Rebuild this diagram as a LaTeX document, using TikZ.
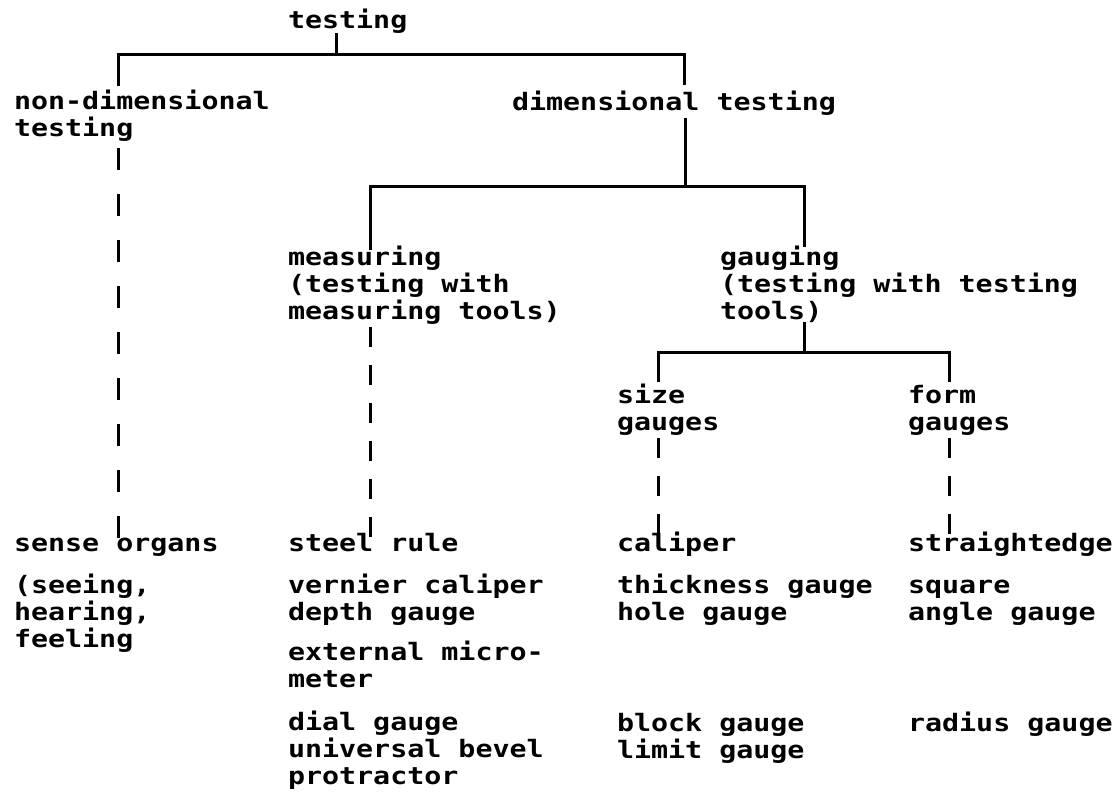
\documentclass[tikz,border=0pt]{standalone}
\usepackage{fontspec}
\setmonofont[FakeStretch=1.18]{DejaVu Sans Mono}
\begin{document}
\begin{tikzpicture}[x=1pt,y=-1pt,
  lbl/.style={anchor=base west, inner sep=0pt, outer sep=0pt, align=left,
    font=\fontsize{24}{27}\selectfont\ttfamily\bfseries},
  conn/.style={line width=3pt},
  dconn/.style={line width=3pt, dash pattern=on 20pt off 18pt},
  ldconn/.style={line width=3pt, dash pattern=on 22pt off 24pt}]
\useasboundingbox (0,0) rectangle (1115,794);
% text nodes (anchor = baseline of the last line)
\node[lbl] (t0) at (288,29) {testing};
\node[lbl] (nd) at (14,137) {non-dimensional\\testing};
\node[lbl] (dt) at (512,111) {dimensional testing};
\node[lbl] (ms) at (288,319) {measuring\\(testing with\\measuring tools)};
\node[lbl] (gg) at (720,319) {gauging\\(testing with testing\\tools)};
\node[lbl] (sz) at (617,430) {size\\gauges};
\node[lbl] (fm) at (908,430) {form\\gauges};
\node[lbl] (so) at (14,551) {sense organs};
\node[lbl] (se) at (14,647) {(seeing,\\hearing,\\feeling};
\node[lbl] (sr) at (288,551) {steel rule};
\node[lbl] (vc) at (288,620) {vernier caliper\\depth gauge};
\node[lbl] (em) at (288,687) {external micro-\\meter};
\node[lbl] (dg) at (288,784) {dial gauge\\universal bevel\\protractor};
\node[lbl] (cl) at (617,551) {caliper};
\node[lbl] (th) at (617,620) {thickness gauge\\hole gauge};
\node[lbl] (bg) at (617,758) {block gauge\\limit gauge};
\node[lbl] (st) at (908,551) {straightedge};
\node[lbl] (sq) at (908,620) {square\\angle gauge};
\node[lbl] (rg) at (908,731) {radius gauge};
% connector points
\coordinate (a0) at (336,33);
\coordinate (a1) at (336,55);
\coordinate (a2) at (118,55);
\coordinate (a3) at (118,86);
\coordinate (a4) at (684,55);
\coordinate (a5) at (684,85);
\coordinate (b0) at (685,118);
\coordinate (b1) at (685,187);
\coordinate (b2) at (370,187);
\coordinate (b3) at (370,250);
\coordinate (b4) at (804,187);
\coordinate (b5) at (804,247);
\coordinate (c0) at (804,322);
\coordinate (c1) at (804,352);
\coordinate (c2) at (658,352);
\coordinate (c3) at (658,382);
\coordinate (c4) at (949,352);
\coordinate (c5) at (949,382);
\coordinate (d0) at (118,148);
\coordinate (d1) at (118,538);
\coordinate (e0) at (370,327);
\coordinate (e1) at (370,547);
\coordinate (f0) at (658,438);
\coordinate (f1) at (658,545);
\coordinate (g0) at (949,438);
\coordinate (g1) at (949,545);
% connectors
\draw[conn] (a0) -- (a1);
\draw[conn] (a3) -- (a2) -- (a4) -- (a5);
\draw[conn] (b0) -- (b1);
\draw[conn] (b3) -- (b2) -- (b4) -- (b5);
\draw[conn] (c0) -- (c1);
\draw[conn] (c3) -- (c2) -- (c4) -- (c5);
\draw[ldconn] (d0) -- (d1);
\draw[dconn] (e0) -- (e1);
\draw[dconn] (f0) -- (f1);
\draw[dconn] (g0) -- (g1);
\end{tikzpicture}
\end{document}
